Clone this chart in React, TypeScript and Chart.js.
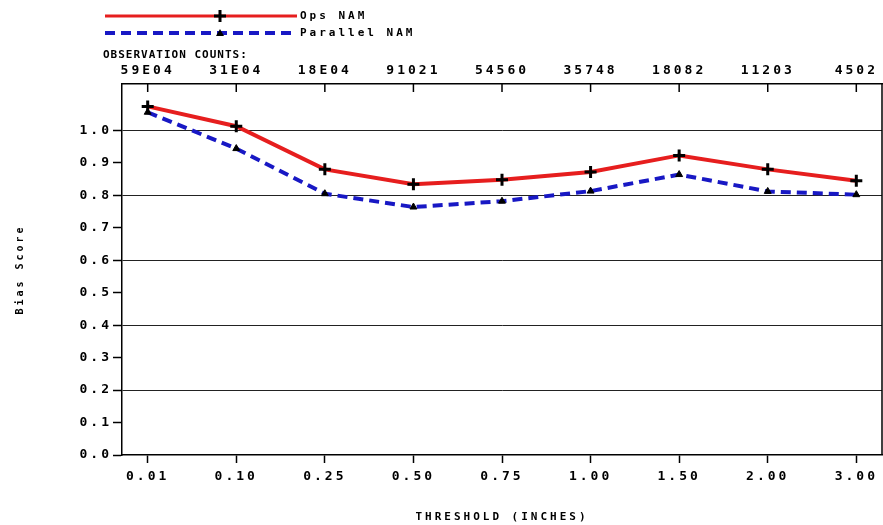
import React, { useEffect, useRef } from 'react';
import { Chart, registerables } from 'chart.js';

Chart.register(...registerables);

const thresholds = ['0.01', '0.10', '0.25', '0.50', '0.75', '1.00', '1.50', '2.00', '3.00'];
const observationCounts = ['59E04', '31E04', '18E04', '91021', '54560', '35748', '18082', '11203', '4502'];
const opsNam = [1.074, 1.013, 0.88, 0.834, 0.848, 0.872, 0.923, 0.88, 0.845];
const parallelNam = [1.056, 0.944, 0.805, 0.764, 0.782, 0.813, 0.864, 0.812, 0.802];
const yTickValues = [0, 0.1, 0.2, 0.3, 0.4, 0.5, 0.6, 0.7, 0.8, 0.9, 1.0];
const seriesNames = ['Ops NAM', 'Parallel NAM'];

const FONT = "'DejaVu Sans Mono', monospace";
const RED = '#e61e1e';
const BLUE = '#1818c4';
const X_MIN = -0.29;
const X_MAX = 8.29;

const decor = {
  id: 'decor',
  beforeDraw(chart: any) {
    chart.ctx.letterSpacing = '3px';
  },
  afterDraw(chart: any) {
    const ctx = chart.ctx as CanvasRenderingContext2D;
    const { top, right, bottom } = chart.chartArea;
    const xs = chart.scales.x;
    ctx.save();
    ctx.strokeStyle = '#000';
    ctx.lineWidth = 1.5;
    ctx.beginPath();
    ctx.moveTo(right, top);
    ctx.lineTo(right, bottom);
    ctx.stroke();
    for (let i = 0; i < thresholds.length; i++) {
      const px = xs.getPixelForValue(i);
      ctx.beginPath();
      ctx.moveTo(px, top);
      ctx.lineTo(px, top + 8);
      ctx.stroke();
    }
    // legend
    ctx.setLineDash([]);
    ctx.strokeStyle = RED;
    ctx.lineWidth = 3;
    ctx.beginPath();
    ctx.moveTo(105, 16);
    ctx.lineTo(297, 16);
    ctx.stroke();
    ctx.strokeStyle = '#000';
    ctx.lineWidth = 3;
    ctx.beginPath();
    ctx.moveTo(214, 16);
    ctx.lineTo(226, 16);
    ctx.moveTo(220, 10);
    ctx.lineTo(220, 22);
    ctx.stroke();

    ctx.strokeStyle = BLUE;
    ctx.lineWidth = 4;
    ctx.setLineDash([10, 6]);
    ctx.beginPath();
    ctx.moveTo(105, 33);
    ctx.lineTo(297, 33);
    ctx.stroke();
    ctx.setLineDash([]);
    ctx.fillStyle = '#000';
    ctx.beginPath();
    ctx.moveTo(220, 29);
    ctx.lineTo(224, 36);
    ctx.lineTo(216, 36);
    ctx.closePath();
    ctx.fill();

    ctx.fillStyle = '#000';
    ctx.textBaseline = 'middle';
    ctx.textAlign = 'left';
    ctx.font = `bold 11px ${FONT}`;
    (ctx as any).letterSpacing = '3px';
    ctx.fillText(seriesNames[0], 300, 16);
    ctx.fillText(seriesNames[1], 300, 33);

    ctx.font = `bold 11px ${FONT}`;
    (ctx as any).letterSpacing = '1px';
    ctx.fillText('OBSERVATION COUNTS:', 103, 55);
    ctx.restore();
  },
};

export default function App() {
  const ref = useRef<HTMLCanvasElement>(null);
  useEffect(() => {
    document.body.style.margin = '0';
    const tickFont = { family: FONT, size: 13, weight: 'bold' as const };
    const chart = new Chart(ref.current as HTMLCanvasElement, {
      type: 'line',
      data: {
        datasets: [
          {
            label: seriesNames[0],
            data: opsNam.map((v, i) => ({ x: i, y: v })),
            borderColor: RED,
            borderWidth: 4,
            tension: 0,
            pointStyle: 'cross',
            pointRadius: 6,
            pointBorderColor: '#000',
            pointBackgroundColor: '#000',
            pointBorderWidth: 3,
          },
          {
            label: seriesNames[1],
            data: parallelNam.map((v, i) => ({ x: i, y: v })),
            borderColor: BLUE,
            borderWidth: 4,
            borderDash: [10, 6],
            tension: 0,
            pointStyle: 'triangle',
            pointRadius: 4,
            pointBorderColor: '#000',
            pointBackgroundColor: '#000',
            pointBorderWidth: 1,
          },
        ],
      },
      options: {
        animation: false,
        responsive: false,
        layout: { autoPadding: false, padding: { top: 0, right: 1, left: 0, bottom: 0 } },
        plugins: { legend: { display: false }, tooltip: { enabled: false } },
        scales: {
          x: {
            type: 'linear',
            position: 'bottom',
            min: X_MIN,
            max: X_MAX,
            afterBuildTicks: (s: any) => {
              s.ticks = thresholds.map((_, i) => ({ value: i }));
            },
            afterFit: (s: any) => {
              s.height = 70;
              s.paddingLeft = 0;
              s.paddingRight = 0;
            },
            ticks: {
              callback: (v: any) => thresholds[v] ?? '',
              autoSkip: false,
              maxRotation: 0,
              padding: 6,
              color: '#000',
              font: tickFont,
            },
            grid: { drawOnChartArea: false, tickLength: 8, tickColor: '#000', tickWidth: 1.5 },
            border: { color: '#000', width: 1.5 },
            title: {
              display: true,
              text: 'THRESHOLD (INCHES)',
              color: '#000',
              font: { family: FONT, size: 11, weight: 'bold' },
              padding: { top: 0, bottom: 1 },
            },
          },
          xTop: {
            type: 'linear',
            position: 'top',
            min: X_MIN,
            max: X_MAX,
            afterBuildTicks: (s: any) => {
              s.ticks = observationCounts.map((_, i) => ({ value: i }));
            },
            afterFit: (s: any) => {
              s.height = 84;
              s.paddingLeft = 0;
              s.paddingRight = 0;
            },
            ticks: {
              callback: (v: any) => observationCounts[v] ?? '',
              autoSkip: false,
              maxRotation: 0,
              padding: 6,
              color: '#000',
              font: tickFont,
            },
            grid: { drawOnChartArea: false, drawTicks: false },
            border: { color: '#000', width: 1.5 },
          },
          y: {
            type: 'linear',
            min: 0,
            max: 1.143,
            afterBuildTicks: (s: any) => {
              s.ticks = yTickValues.map((v) => ({ value: v }));
            },
            afterFit: (s: any) => {
              s.width = 122;
              s.paddingTop = 0;
              s.paddingBottom = 0;
            },
            ticks: {
              callback: (v: any) => Number(v).toFixed(1),
              padding: 1,
              color: '#000',
              font: tickFont,
            },
            grid: {
              color: (c: any) => {
                const k = Math.round(c.tick.value * 10);
                return k > 0 && k % 2 === 0 ? '#222' : 'rgba(0,0,0,0)';
              },
              lineWidth: 1,
              tickColor: '#000',
              tickLength: 9,
              tickWidth: 1.5,
            },
            border: { color: '#000', width: 1.5 },
            title: {
              display: true,
              text: 'Bias Score',
              color: '#000',
              font: { family: FONT, size: 10, weight: 'bold' },
              padding: { top: 14, bottom: 0 },
            },
          },
        },
      } as any,
      plugins: [decor],
    });
    return () => chart.destroy();
  }, []);
  return <canvas ref={ref} width={883} height={525} style={{ display: 'block' }} />;
}
